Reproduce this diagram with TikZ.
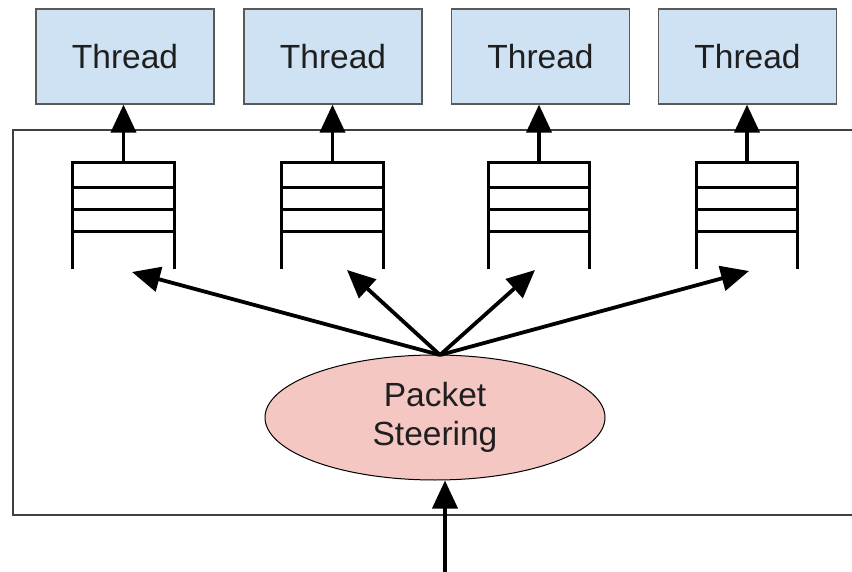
\documentclass[tikz,border=0pt]{standalone}
\usepackage{fontspec}
\setmainfont{Liberation Sans}
\usetikzlibrary{arrows.meta,shapes.geometric}
\definecolor{threadfill}{HTML}{CFE2F3}
\definecolor{steerfill}{HTML}{F4C7C3}
\definecolor{edgegray}{HTML}{595959}
\definecolor{framegray}{HTML}{404040}
\definecolor{inkgray}{HTML}{1F1F1F}
\tikzset{
  thread/.style={draw=edgegray, line width=1.2pt, fill=threadfill,
    minimum width=178pt, minimum height=95pt, inner sep=0pt,
    font=\fontsize{33.5}{38}\selectfont, text=inkgray},
  queue/.style={minimum width=101pt, minimum height=106pt, inner sep=0pt},
  qline/.style={line width=3pt, black},
  flow/.style={line width=3.8pt, black, -{Triangle[length=28pt,width=25pt]}},
  steer/.style={ellipse, draw=black, line width=1pt, fill=steerfill,
    minimum width=340pt, minimum height=125pt, inner sep=0pt, align=center,
    font=\fontsize{33.5}{39}\selectfont, text=inkgray},
}
\begin{document}
\begin{tikzpicture}[x=1pt,y=-1pt]
\useasboundingbox (0,0) rectangle (852,572);

% enclosing frame (open on the right)
\draw[framegray, line width=1.5pt] (870,130) -- (13,130) -- (13,515) -- (870,515);

% thread boxes
\node[thread] (t1) at (125,56.5) {Thread};
\node[thread] (t2) at (333,56.5) {Thread};
\node[thread] (t3) at (540.5,56.5) {Thread};
\node[thread] (t4) at (747.5,56.5) {Thread};

% queues
\foreach \n/\x in {q1/123.5, q2/332.5, q3/539, q4/747} {
  \node[queue] (\n) at (\x,216) {};
  \draw[qline] (\n.south west) -- (\n.north west) -- (\n.north east) -- (\n.south east);
  \foreach \dy in {25,47,69}
    \draw[qline] ([yshift=-\dy pt]\n.north west) -- ([yshift=-\dy pt]\n.north east);
}

% steering element
\node[steer] (ps) at (435,417.5) {Packet\\Steering};
\coordinate (fan) at (440,355);
\coordinate (in) at (445,572);

% arrow tips below the queues
\coordinate (d1) at (132,272);
\coordinate (d2) at (347,270);
\coordinate (d3) at (535,270);
\coordinate (d4) at (749,271);

% queue -> thread
\draw[flow] (q1.north) -- (q1.north |- t1.south);
\draw[flow] (q2.north) -- (q2.north |- t2.south);
\draw[flow] (q3.north) -- (q3.north |- t3.south);
\draw[flow] (q4.north) -- (q4.north |- t4.south);

% steering -> queues
\draw[flow] (fan) -- (d1);
\draw[flow] (fan) -- (d2);
\draw[flow] (fan) -- (d3);
\draw[flow] (fan) -- (d4);

% incoming packets
\draw[flow] (in) -- (ps.south -| in);
\end{tikzpicture}
\end{document}
